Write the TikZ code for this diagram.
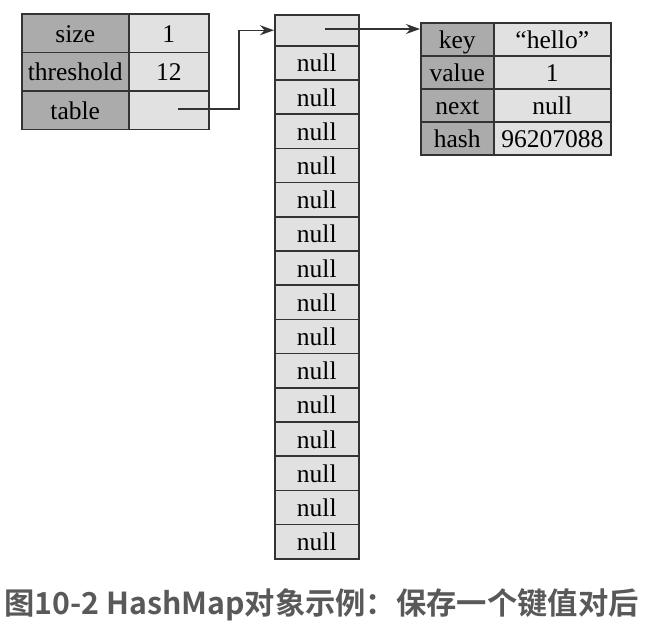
\documentclass[tikz,border=0pt]{standalone}
\usepackage{fontspec}
\setmainfont{Liberation Serif}
\newfontfamily\cjk{Noto Sans CJK SC Bold}
\usetikzlibrary{arrows.meta}
\definecolor{darkc}{HTML}{ABABAB}
\definecolor{lightc}{HTML}{E1E1E1}
\definecolor{linec}{HTML}{333333}
\definecolor{capc}{HTML}{595959}
\begin{document}
\begin{tikzpicture}[x=1pt,y=-1pt,
  cell/.style={draw=linec,line width=1.5pt,rectangle,inner sep=0pt,anchor=north west,
    font=\fontsize{25.5}{25.5}\selectfont,text height=21pt,text depth=3pt},
  lab/.style={cell,fill=darkc},
  val/.style={cell,fill=lightc},
  arr/.style={draw=linec,line width=1.4pt,-{Stealth[length=14pt,width=10pt]}}]
\useasboundingbox (0,0) rectangle (662,629);
% left table
\node[lab,minimum width=107pt,minimum height=38.5pt] (t1l) at (21,13) {size};
\node[val,minimum width=80pt,minimum height=38.5pt] (t1v) at (128,13) {1};
\node[lab,minimum width=107pt,minimum height=38.5pt] (t2l) at (21,51.5) {threshold};
\node[val,minimum width=80pt,minimum height=38.5pt] (t2v) at (128,51.5) {12};
\node[lab,minimum width=107pt,minimum height=38.5pt] (t3l) at (21,90) {table};
\node[val,minimum width=80pt,minimum height=38.5pt] (t3v) at (128,90) {};
% array
\node[val,minimum width=84pt,minimum height=31pt] (a0) at (274,14) {};
\foreach \i in {1,...,15}{
  \node[val,minimum width=84pt,minimum height=34.2pt] (a\i) at (274,45+34.2*\i-34.2) {null};
}
% entry table
\node[lab,minimum width=73pt,minimum height=33pt] (e1l) at (420,22) {key};
\node[val,minimum width=117pt,minimum height=33pt] (e1v) at (493,22) {``hello''};
\node[lab,minimum width=73pt,minimum height=33pt] (e2l) at (420,55) {value};
\node[val,minimum width=117pt,minimum height=33pt] (e2v) at (493,55) {1};
\node[lab,minimum width=73pt,minimum height=33pt] (e3l) at (420,88) {next};
\node[val,minimum width=117pt,minimum height=33pt] (e3v) at (493,88) {null};
\node[lab,minimum width=73pt,minimum height=33pt] (e4l) at (420,121) {hash};
\node[val,minimum width=117pt,minimum height=33pt] (e4v) at (493,121) {96207088};
% connectors
\coordinate (s1) at (178,109);
\coordinate (b1) at (239,109);
\coordinate (s2) at (325,29);
\draw[arr] (s1) -- (b1) |- (a0.west);
\draw[arr] (s2) -- (s2 -| e1l.west);
% caption
\node[font=\cjk\fontsize{30.3}{30.3}\selectfont,text=capc,anchor=west,inner sep=0pt] (cap) at (4,605) {图10-2 HashMap对象示例：保存一个键值对后};
\end{tikzpicture}
\end{document}
